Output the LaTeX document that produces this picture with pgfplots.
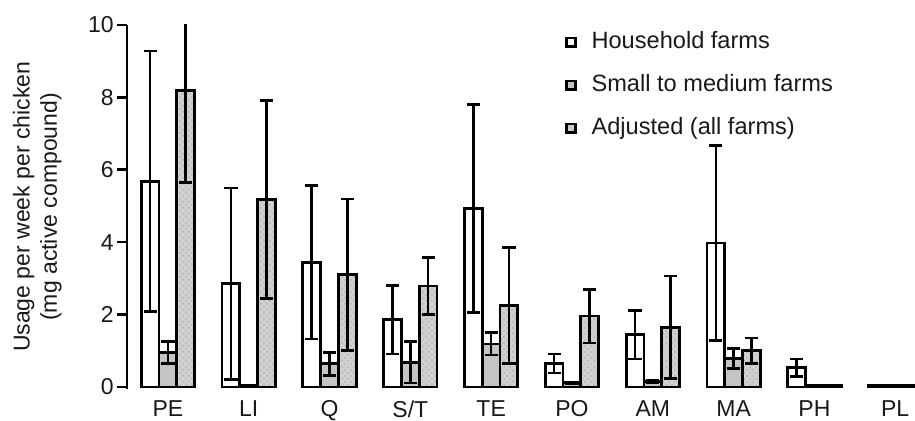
\documentclass[border=0pt]{standalone}
\usepackage{fontspec}
\setmainfont{Liberation Sans}
\usepackage{pgfplots}
\pgfplotsset{compat=1.18}
\usetikzlibrary{patterns}
\definecolor{smallgray}{RGB}{196,196,196}
\definecolor{adjgray}{RGB}{208,208,208}
\definecolor{txt}{RGB}{25,25,25}
\begin{document}
\begin{tikzpicture}
\begin{axis}[
  scale only axis,
  width=394pt, height=181.9pt,
  xmin=-0.507, xmax=9.245,
  ymin=-0.05, ymax=10,
  ybar, bar width=8.9pt,
  clip=true,
  axis y line*=left, axis x line*=bottom,
  x axis line style={draw=none},
  y axis line style={line width=1.3pt},
  xtick={0,1,2,3,4,5,6,7,8,9},
  xticklabels={PE,LI,Q,S/T,TE,PO,AM,MA,PH,PL},
  xtick style={draw=none},
  ytick={0,2,4,6,8,10},
  ytick style={line width=1.3pt, black},
  tick align=outside,
  major tick length=5pt,
  /pgf/number format/assume math mode=true,
  every tick label/.append style={font=\fontsize{11.5}{13}\selectfont, text=txt},
  yticklabel style={inner sep=1.5pt},
  xticklabel style={inner sep=0pt, yshift=-0.6pt},
  ylabel={Usage per week per chicken\\(mg active compound)},
  ylabel style={at={(rel axis cs:-0.0825,0.5)}, anchor=south, inner sep=0pt, align=center, font=\fontsize{11.5}{13.6}\selectfont, text=txt},
  legend image code/.code={\draw[#1, line width=1.3pt] (0pt,-2.2pt) rectangle (4.4pt,2.2pt);},
  legend cell align=left,
  legend style={at={(rel axis cs:0.5558,0.9945)}, anchor=north west, draw=none, fill=none, inner sep=0pt,
    row sep=6.5pt, column sep=5.4pt, font=\fontsize{11.8}{13}\selectfont, text=txt,
    nodes={inner sep=2pt, text height=8.6pt, text depth=2.4pt}},
  error bars/y dir=both, error bars/y explicit,
  error bars/error mark options={rotate=90, mark size=3.3pt, line width=1.3pt, black},
  error bars/error bar style={line width=1.3pt, black},
]
\addplot[draw=black, line width=1.4pt, fill=white, bar shift=-8.9pt] coordinates {
  (0,5.68) +- (0,3.6)
  (1,2.85) +- (0,2.65)
  (2,3.44) +- (0,2.12)
  (3,1.86) +- (0,0.95)
  (4,4.93) +- (0,2.87)
  (5,0.65) +- (0,0.26)
  (6,1.44) +- (0,0.67)
  (7,3.98) +- (0,2.69)
  (8,0.53) +- (0,0.24)
  (9,0.03) +- (0,0)
};
\addplot[draw=black, line width=1.4pt, fill=smallgray, bar shift=0pt] coordinates {
  (0,0.95) +- (0,0.3)
  (1,0.03) +- (0,0)
  (2,0.64) +- (0,0.32)
  (3,0.68) +- (0,0.57)
  (4,1.19) +- (0,0.31)
  (5,0.12) +- (0,0.02)
  (6,0.15) +- (0,0.03)
  (7,0.79) +- (0,0.28)
  (8,0.04) +- (0,0)
  (9,0.03) +- (0,0)
};
\addplot[draw=black, line width=1.4pt, fill=adjgray, postaction={pattern=crosshatch dots, pattern color=black!30}, bar shift=8.9pt] coordinates {
  (0,8.2) +- (0,2.55)
  (1,5.18) +- (0,2.73)
  (2,3.1) +- (0,2.09)
  (3,2.79) +- (0,0.78)
  (4,2.25) +- (0,1.6)
  (5,1.96) +- (0,0.74)
  (6,1.65) +- (0,1.42)
  (7,1.0) +- (0,0.35)
  (8,0.05) +- (0,0)
  (9,0.03) +- (0,0)
};
\legend{Household farms, Small to medium farms, Adjusted (all farms)}
\end{axis}
\pgfresetboundingbox
\path[use as bounding box] ([shift={(-63.5pt,-16.1pt)}]current axis.south west) rectangle ([shift={(0pt,12.5pt)}]current axis.north east);
\end{tikzpicture}
\end{document}
